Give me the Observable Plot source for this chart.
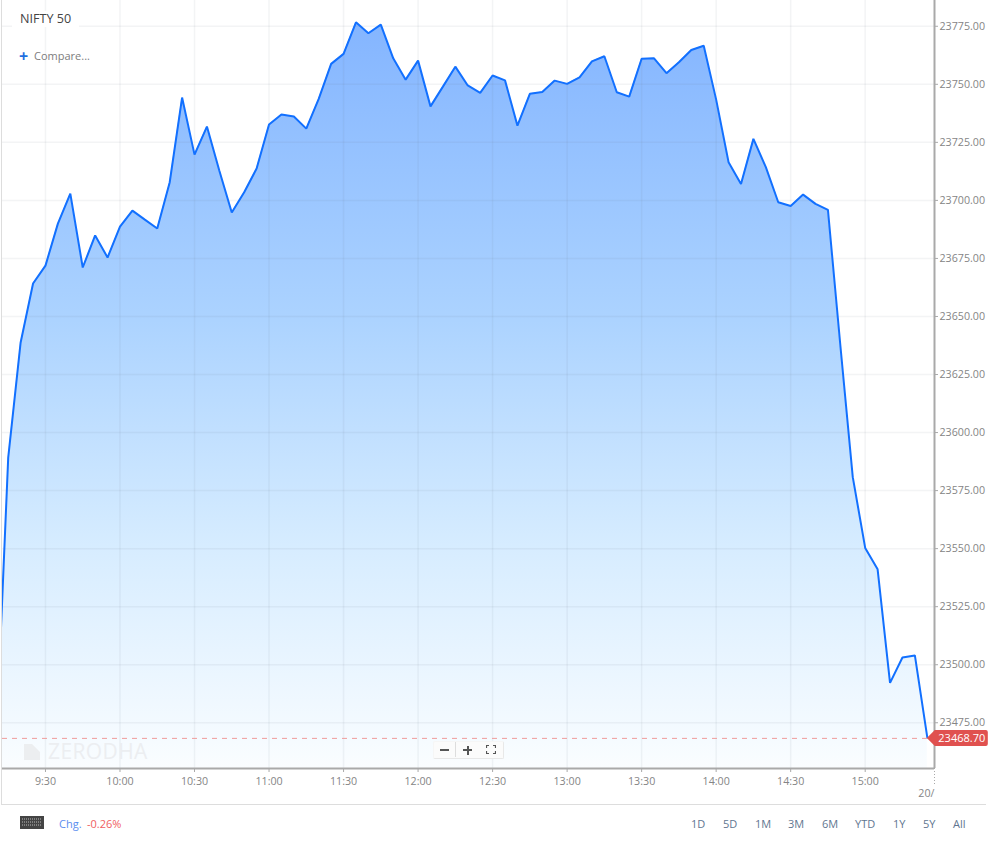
<!DOCTYPE html>
<html>
<head>
<meta charset="utf-8">
<script src="https://cdn.jsdelivr.net/npm/d3@7"></script>
<script src="https://cdn.jsdelivr.net/npm/@observablehq/plot@0.6"></script>
<style>
html,body{margin:0;padding:0;background:#fff;overflow:hidden}
#wrap{position:relative;width:991px;height:843px;font-family:"Open Sans",sans-serif;overflow:hidden}
#chart{position:absolute;left:0;top:0}
.a{position:absolute;white-space:nowrap;line-height:1}
.r{font-size:11px;color:#5f7690;top:817.5px}
</style>
</head>
<body>
<div id="wrap">
  <div id="chart"></div>
  <div class="a" style="left:12px;top:10.5px;padding:2px 8px;background:#fff;font-size:12.6px;color:#444">NIFTY 50</div>
  <div class="a" style="left:19px;top:48px;font-size:16px;font-weight:700;color:#1f6fe0">+</div>
  <div class="a" style="left:34px;top:50px;font-size:11px;color:#7d7d7d">Compare...</div>

  <svg class="a" style="left:24px;top:744px" width="16" height="16"><path d="M0 0H16V16H0Z M8 0L16 8V0Z" fill="#eceef0" fill-rule="evenodd"/></svg>
  <div class="a" style="left:48px;top:741px;font-size:21px;letter-spacing:.4px;color:#eceef1">ZERODHA</div>

  <div class="a" style="left:433px;top:741px;width:69px;height:16px;background:#fbfbfb;border:1px solid #e8e8e8;border-left-color:#f6f6f6;border-top-color:#f6f6f6;border-radius:2px"></div>
  <div class="a" style="left:440px;top:749px;width:9px;height:2px;background:#555"></div>
  <div class="a" style="left:455px;top:742px;width:1px;height:15px;background:#ddd"></div>
  <div class="a" style="left:463px;top:749px;width:9px;height:2px;background:#555"></div>
  <div class="a" style="left:466.5px;top:745.5px;width:2px;height:9px;background:#555"></div>
  <svg class="a" style="left:486px;top:745px" width="10" height="9"><path d="M.5 3V.5H3M7 .5H9.5V3M9.5 6V8.5H7M3 8.5H.5V6" fill="none" stroke="#555" stroke-width="1.2"/></svg>

  <svg class="a" style="left:20px;top:816px" width="24" height="13"><rect width="24" height="13" fill="#444"/><path d="M2 3H22M2 6H22M2 9H22" stroke="#bbb" stroke-width="1" stroke-dasharray="1 1"/></svg>
  <div class="a" style="left:59px;top:817.5px;font-size:11px;color:#5b8def">Chg.</div>
  <div class="a" style="left:87px;top:817.5px;font-size:11px;color:#f0605f">-0.26%</div>
  <div class="a r" style="left:691px">1D</div>
  <div class="a r" style="left:723px">5D</div>
  <div class="a r" style="left:755px">1M</div>
  <div class="a r" style="left:788px">3M</div>
  <div class="a r" style="left:822px">6M</div>
  <div class="a r" style="left:855px">YTD</div>
  <div class="a r" style="left:893px">1Y</div>
  <div class="a r" style="left:923px">5Y</div>
  <div class="a r" style="left:953px">All</div>
</div>
<script>
const times = [
  "9:10","9:15","9:20","9:25","9:30","9:35","9:40","9:45","9:50","9:55",
  "10:00","10:05","10:10","10:15","10:20","10:25","10:30","10:35","10:40","10:45","10:50","10:55",
  "11:00","11:05","11:10","11:15","11:20","11:25","11:30","11:35","11:40","11:45","11:50","11:55",
  "12:00","12:05","12:10","12:15","12:20","12:25","12:30","12:35","12:40","12:45","12:50","12:55",
  "13:00","13:05","13:10","13:15","13:20","13:25","13:30","13:35","13:40","13:45","13:50","13:55",
  "14:00","14:05","14:10","14:15","14:20","14:25","14:30","14:35","14:40","14:45","14:50","14:55",
  "15:00","15:05","15:10","15:15","15:20","15:25"
];
const prices = [
  23463.0,23589.2,23638.8,23664.2,23671.9,23690.0,23702.9,23671.1,23684.9,23675.4,
  23688.7,23695.6,23691.7,23687.9,23707.7,23744.3,23719.7,23731.8,23712.8,23694.8,23703.5,23713.7,
  23732.7,23737.0,23736.1,23730.9,23743.7,23758.8,23763.1,23776.7,23772.0,23775.7,23761.2,23752.0,
  23760.2,23740.5,23749.0,23757.6,23749.5,23746.3,23753.8,23751.7,23732.2,23745.9,23746.7,23751.6,
  23750.2,23753.0,23759.9,23762.1,23746.6,23744.7,23761.0,23761.2,23754.8,23759.5,23764.8,23766.6,
  23743.4,23716.4,23707.1,23726.5,23714.3,23699.2,23697.6,23702.5,23698.5,23695.9,23637.5,23580.8,
  23550.3,23541.1,23492.2,23503.1,23504.0,23468.7
];
const priceTicks = [23475,23500,23525,23550,23575,23600,23625,23650,23675,23700,23725,23750,23775];
const timeTicks = ["9:30","10:00","10:30","11:00","11:30","12:00","12:30","13:00","13:30","14:00","14:30","15:00"];
const nextDayLabel = "20/";
const closeValue = 23468.70;

const toMin = s => { const [h,m] = s.split(":").map(Number); return h*60+m; };
const rows = times.map((t,i) => ({t: toMin(t), p: prices[i]}));
const xDomain = [552.7, 927.9];
const yDomain = [23455.3, 23786.1];
const tickMins = timeTicks.map(toMin);
const gridColor = "#607080";
const axisColor = "#a9a9a9";
const textColor = "#858585";

function gradientDefs(index, scales) {
  const ns = "http://www.w3.org/2000/svg";
  const defs = document.createElementNS(ns,"defs");
  const g = document.createElementNS(ns,"linearGradient");
  g.setAttribute("id","areaFill");
  g.setAttribute("gradientUnits","userSpaceOnUse");
  g.setAttribute("x1",0); g.setAttribute("x2",0);
  g.setAttribute("y1",scales.y(d3.max(prices)));
  g.setAttribute("y2",scales.y(yDomain[0]));
  [["0","#84b5ff"],["0.4","#acd3ff"],["0.7","#d6ecff"],["1","#fafdff"]].forEach(([o,c])=>{
    const s=document.createElementNS(ns,"stop");
    s.setAttribute("offset",o); s.setAttribute("stop-color",c); g.appendChild(s);
  });
  defs.appendChild(g);
  return defs;
}

function closeBadge(index, scales) {
  const x = scales.x(rows[rows.length-1].t), y = scales.y(closeValue) + 1;
  const g = d3.create("svg:g");
  g.append("path")
    .attr("d",`M${x} ${y}L${x+8} ${y-8}H${x+59}q2 0 2 2V${y+6}q0 2 -2 2H${x+8}Z`)
    .attr("fill","#e0514f");
  g.append("text").attr("x",x+35).attr("y",y).attr("dy","0.36em")
    .attr("text-anchor","middle").attr("fill","#fff")
    .style("font-size","11px").text(closeValue.toFixed(2));
  return g.node();
}

const chart = Plot.plot({
  width: 991,
  height: 805,
  marginTop: 0,
  marginLeft: 2,
  marginRight: 57,
  marginBottom: 37,
  style: {background:"transparent", fontFamily:"'Open Sans',sans-serif", fontSize:"10.7px", color:textColor},
  x: {domain: xDomain},
  y: {domain: yDomain},
  marks: [
    gradientDefs,
    Plot.areaY(rows, {x:"t", y1:yDomain[0], y2:"p", fill:"url(#areaFill)", clip:true}),
    Plot.ruleX(tickMins, {stroke:gridColor, strokeOpacity:0.08, strokeWidth:1.5}),
    Plot.ruleY(priceTicks, {stroke:gridColor, strokeOpacity:0.08, strokeWidth:1.5}),
    Plot.ruleY([closeValue], {dy:1, x2:rows[rows.length-1].t, x1:xDomain[0], stroke:"#ef9b9b", strokeWidth:1, strokeDasharray:"5 5"}),
    Plot.line(rows, {x:"t", y:"p", stroke:"#1270ff", strokeWidth:2, clip:true, strokeLinejoin:"miter"}),
    Plot.ruleX([xDomain[1]], {stroke:axisColor, strokeWidth:2}),
    Plot.ruleY([yDomain[0]], {stroke:axisColor, strokeWidth:2}),
    Plot.ruleX([xDomain[1]], {y1:yDomain[0], y2:yDomain[0]-7.4, stroke:axisColor, strokeDasharray:"1 2"}),
    Plot.axisY({anchor:"right", ticks:priceTicks, tickSize:3, tickPadding:2, stroke:axisColor, tickFormat:d=>d.toFixed(2), label:null, fill:textColor, fontSize:10.7}),
    Plot.axisX({anchor:"bottom", ticks:tickMins, tickSize:4, tickPadding:5, stroke:axisColor, tickFormat:m=>`${Math.floor(m/60)}:${String(m%60).padStart(2,"0")}`, label:null, fill:textColor, fontSize:10.7}),
    Plot.text([nextDayLabel], {x:xDomain[1], frameAnchor:"bottom", dy:28, textAnchor:"end", fill:textColor, fontSize:10.7}),
    closeBadge
  ]
});
document.getElementById("chart").appendChild(chart);
const frame = document.createElement("div");
frame.className = "a";
frame.style.cssText = "left:1px;top:0;width:984px;height:804px;border-left:1px solid #ddd;border-bottom:1px solid #ddd;box-sizing:content-box;pointer-events:none";
document.getElementById("wrap").appendChild(frame);
</script>
</body>
</html>
